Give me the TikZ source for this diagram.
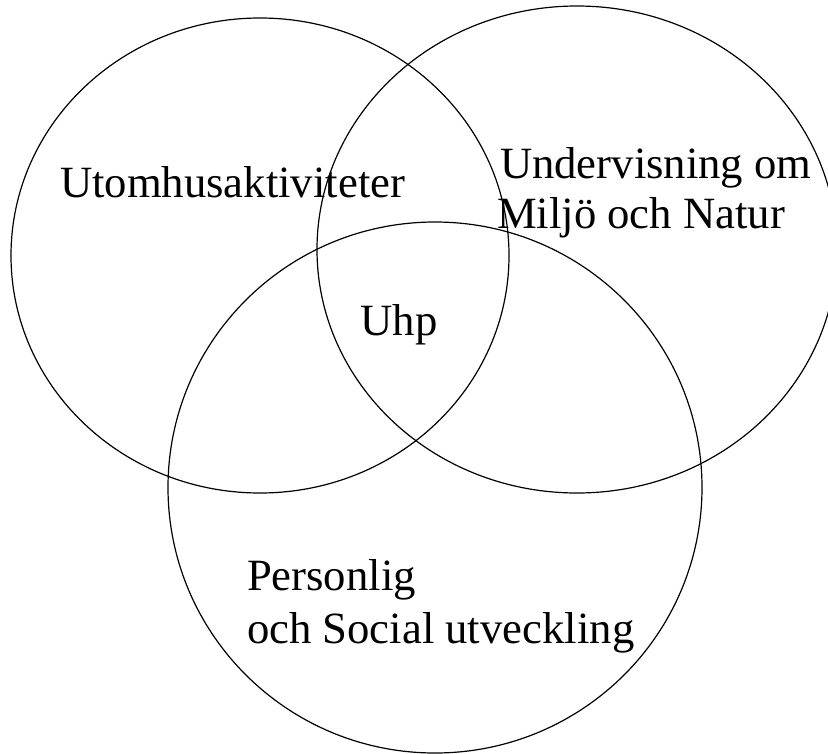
\documentclass[tikz,border=0pt]{standalone}
\usepackage{fontspec}
\setmainfont{Liberation Serif}
\begin{document}
\begin{tikzpicture}[x=1pt,y=-1pt,
  ring/.style={draw=black,line width=1.2pt},
  lbl/.style={inner sep=0pt,outer sep=0pt,anchor=base west,font=\fontsize{44.7}{50}\selectfont}]
\useasboundingbox (0,0) rectangle (828,753);
\draw[ring] (260,255.5) ellipse [x radius=249, y radius=237.5];
\draw[ring] (577,249.5) ellipse [x radius=260, y radius=243.5];
\draw[ring] (435,487.5) ellipse [x radius=267, y radius=265.5];
\node[lbl] (a) at (60,197) {Utomhusaktiviteter};
\node[lbl] (b1) at (500,178) {Undervisning om};
\node[lbl] (b2) at (497,228) {Miljö och Natur};
\node[lbl,anchor=base] (c) at (399,335) {Uhp};
\node[lbl] (d1) at (247,590) {Personlig};
\node[lbl] (d2) at (247,643) {och Social utveckling};
\end{tikzpicture}
\end{document}
